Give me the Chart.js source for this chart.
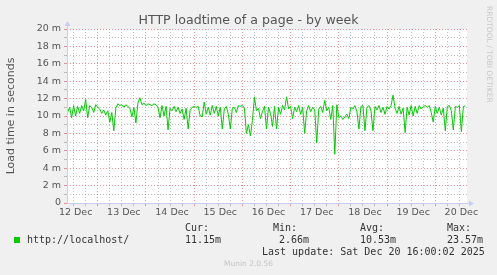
<!DOCTYPE html>
<html lang="en">
<head>
<meta charset="UTF-8">
<title>HTTP loadtime of a page - by week</title>
<script src="https://cdn.jsdelivr.net/npm/chart.js"></script>
<style>
  body { margin: 0; background: #f0f0f0; }
  #wrap { position: relative; width: 497px; height: 275px; overflow: hidden; background: #f0f0f0; }
  #chart { position: absolute; left: 0; top: 0; }
  .mono { position: absolute; white-space: pre; font-family: "DejaVu Sans Mono", monospace; font-size: 10px; line-height: 12px; color: #333; }
  #title { position: absolute; left: 0; width: 497px; top: 12px; text-align: center; font-family: "DejaVu Sans", sans-serif; font-size: 12.6px; line-height: 15px; color: #555; }
  #rrd { position: absolute; left: 485px; top: 6px; writing-mode: vertical-rl; font-family: "DejaVu Sans", sans-serif; font-size: 7.5px; color: #c8c8c8; white-space: nowrap; }
  #munin { position: absolute; left: 0; width: 497px; top: 259px; text-align: center; font-family: "DejaVu Sans", sans-serif; font-size: 7.5px; line-height: 10px; color: #c4c4c4; }
  #swatch { position: absolute; left: 14px; top: 237px; width: 6px; height: 6px; background: #00cc00; }
</style>
</head>
<body>
<div id="wrap">
  <canvas id="chart" width="497" height="275"></canvas>
  <div id="title">HTTP loadtime of a page - by week</div>
  <div id="rrd">RRDTOOL / TOBI OETIKER</div>
  <div id="swatch"></div>
  <div class="mono" style="left:27px;top:234px">http://localhost/</div>
  <div class="mono" style="left:185px;top:222px">Cur:</div>
  <div class="mono" style="left:185px;top:234px">11.15m</div>
  <div class="mono" style="left:273px;top:222px">Min:</div>
  <div class="mono" style="left:279px;top:234px">2.66m</div>
  <div class="mono" style="left:360px;top:222px">Avg:</div>
  <div class="mono" style="left:360px;top:234px">10.53m</div>
  <div class="mono" style="left:447px;top:222px">Max:</div>
  <div class="mono" style="left:447px;top:234px">23.57m</div>
  <div class="mono" style="left:262px;top:246px">Last update: Sat Dec 20 16:00:02 2025</div>
  <div id="munin">Munin 2.0.56</div>
</div>
<script>
// hours counted from 12 Dec 00:00, one sample per hour
var firstHour = 9;
var windowStart = 8.7;
var windowEnd = 207.8;
var dayLabels = ['12 Dec', '13 Dec', '14 Dec', '15 Dec', '16 Dec', '17 Dec', '18 Dec', '19 Dec', '20 Dec'];

// load time in milliseconds (graph unit "m")
var loadtime = [
  10.4, 11.0, 9.8, 11.2, 10.0, 11.1, 10.3, 11.2, 10.6, 11.9, 9.8, 11.2, 11.0, 10.4, 11.3, 11.0,
  10.8, 10.3, 10.7, 10.1, 10.6, 9.3, 10.4, 8.3, 10.9, 11.4, 11.2, 11.3, 11.0, 11.3,
  11.1, 10.9, 9.9, 11.0, 9.2, 11.5, 12.1, 11.3, 11.5, 11.2, 11.4, 11.3,
  11.2, 11.4, 11.3, 11.0, 9.8, 11.2, 10.0, 11.1, 8.4, 10.9,
  10.6, 11.1, 10.5, 11.0, 10.3, 10.8, 9.6, 10.9, 8.5, 10.7, 11.0, 11.1, 11.0, 11.1,
  10.0, 9.9, 11.6, 10.2, 11.0, 10.1, 11.2, 10.3, 11.1, 10.0, 11.0,
  8.5, 10.8, 11.1, 10.2, 8.5, 10.9, 11.0, 10.4, 11.2, 11.1,
  11.2, 10.9, 8.0, 9.0, 7.7, 9.5, 12.2, 10.6, 10.9, 9.7, 10.5,
  11.1, 8.5, 11.0, 10.3, 8.8, 11.1, 8.5, 11.0, 10.2, 11.2, 10.7, 12.2, 10.8, 11.1,
  9.7, 11.0, 10.5, 11.2, 10.2, 11.0, 8.0, 10.6, 11.2, 10.5, 11.0, 10.7, 6.9,
  10.8, 11.1, 10.4, 11.8, 10.6, 11.0, 9.6, 11.2, 5.6, 11.3, 9.8, 10.0, 9.6,
  9.9, 10.2, 9.7, 11.0, 10.8, 11.2, 10.5, 8.5, 11.1, 11.2, 8.3, 11.0, 11.2, 10.6, 8.3, 11.1, 10.7, 11.2, 10.4, 11.0, 10.2, 11.1,
  10.8, 11.2, 12.4, 10.9, 10.3, 11.1, 10.2, 10.9, 8.1, 11.0, 10.1, 11.2,
  10.0, 11.1, 10.3, 11.2, 10.8, 11.1, 11.2, 11.0, 11.2, 10.4, 9.3, 11.1,
  10.3, 11.0, 10.1, 10.9, 8.3, 11.1, 11.2, 10.6, 8.4, 11.1, 11.0, 11.2, 8.2, 11.1, 11.15
];

var points = loadtime.map(function (v, i) {
  return { x: firstHour + i, y: v };
});

var majorGrid = 'rgba(230, 110, 110, 0.75)';
var minorGrid = 'rgba(150, 150, 150, 0.6)';
var axisColor = 'rgb(200, 205, 245)';

var plotFrame = {
  id: 'plotFrame',
  beforeDraw: function (chart) {
    var a = chart.chartArea, c = chart.ctx;
    c.save();
    c.fillStyle = '#ffffff';
    c.fillRect(a.left, a.top, a.right - a.left, a.bottom - a.top);
    c.restore();
  },
  afterDraw: function (chart) {
    var a = chart.chartArea, c = chart.ctx;
    c.save();
    c.strokeStyle = axisColor;
    c.fillStyle = axisColor;
    c.lineWidth = 1;
    c.beginPath();
    c.moveTo(a.left + 0.5, a.bottom);
    c.lineTo(a.left + 0.5, a.top - 4);
    c.moveTo(a.left, a.bottom + 0.5);
    c.lineTo(a.right + 3, a.bottom + 0.5);
    c.stroke();
    // arrow heads
    c.beginPath();
    c.moveTo(a.left - 2.5, a.top - 3);
    c.lineTo(a.left + 3.5, a.top - 3);
    c.lineTo(a.left + 0.5, a.top - 8);
    c.closePath();
    c.fill();
    c.beginPath();
    c.moveTo(a.right + 2, a.bottom - 2.5);
    c.lineTo(a.right + 2, a.bottom + 3.5);
    c.lineTo(a.right + 7, a.bottom + 0.5);
    c.closePath();
    c.fill();
    c.restore();
  }
};

new Chart(document.getElementById('chart'), {
  type: 'line',
  data: {
    datasets: [{
      label: 'http://localhost/',
      data: points,
      borderColor: '#00cc00',
      borderWidth: 1,
      pointRadius: 0,
      tension: 0,
      fill: false
    }]
  },
  options: {
    responsive: false,
    animation: false,
    layout: { padding: { top: 29, right: 30, bottom: 52, left: 0 } },
    plugins: {
      legend: { display: false },
      title: { display: false },
      tooltip: { enabled: false }
    },
    scales: {
      x: {
        type: 'linear',
        min: windowStart,
        max: windowEnd,
        afterFit: function (s) { s.height = 20; },
        afterBuildTicks: function (s) {
          var t = [];
          for (var h = 12; h <= windowEnd; h += 6) t.push({ value: h });
          s.ticks = t;
        },
        border: { display: false, dash: [1, 2] },
        grid: {
          color: function (ctx) {
            return ctx.tick && ctx.tick.value % 24 === 0 ? majorGrid : minorGrid;
          },
          lineWidth: 1,
          tickLength: 3
        },
        ticks: {
          autoSkip: false,
          maxRotation: 0,
          padding: 1,
          labelOffset: 2,
          color: '#555',
          font: { family: 'DejaVu Sans', size: 9.5 },
          callback: function (v) {
            if (v % 24 !== 12) return '';
            return dayLabels[(v - 12) / 24] || '';
          }
        }
      },
      y: {
        min: 0,
        max: 20,
        afterFit: function (s) { s.width = 67; },
        border: { display: false, dash: [1, 2] },
        grid: {
          color: function (ctx) {
            return ctx.tick && ctx.tick.value % 2 === 0 ? majorGrid : minorGrid;
          },
          lineWidth: 1,
          tickLength: 3
        },
        ticks: {
          stepSize: 1,
          autoSkip: false,
          padding: 3,
          color: '#555',
          font: { family: 'DejaVu Sans', size: 9.5 },
          callback: function (v) {
            if (v % 2 !== 0) return '';
            return v === 0 ? '0' : v + ' m';
          }
        },
        title: {
          display: true,
          text: 'Load time in seconds',
          color: '#555',
          font: { family: 'DejaVu Sans', size: 11 },
          padding: { top: 5, bottom: 0 }
        }
      }
    }
  },
  plugins: [plotFrame]
});
</script>
</body>
</html>
